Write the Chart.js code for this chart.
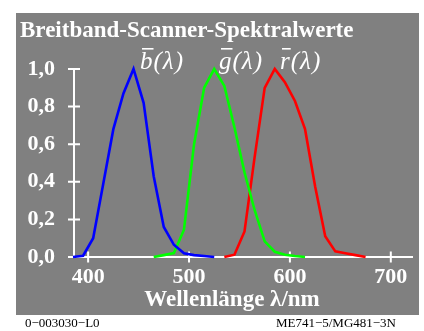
<!DOCTYPE html>
<html>
<head>
<meta charset="utf-8">
<script src="https://cdn.jsdelivr.net/npm/chart.js@4"></script>
<style>
  html, body { margin: 0; padding: 0; background: #fff; }
  canvas { display: block; }
</style>
</head>
<body>
<canvas id="spektral" width="424" height="331"></canvas>
<script>
// wavelengths (nm) and relative spectral values
var blueNm   = [385, 395, 405, 415, 425, 435, 445, 455, 465, 475, 485, 495, 505, 515, 525];
var blueVal  = [0.0, 0.007, 0.10, 0.39, 0.68, 0.87, 1.0, 0.82, 0.43, 0.16, 0.065, 0.02, 0.01, 0.005, 0.0];
var greenNm  = [465, 475, 485, 495, 505, 515, 525, 535, 545, 555, 565, 575, 585, 595, 605, 615];
var greenVal = [0.0, 0.01, 0.021, 0.145, 0.60, 0.90, 1.0, 0.91, 0.69, 0.45, 0.25, 0.083, 0.028, 0.012, 0.005, 0.0];
var redNm    = [535, 545, 555, 565, 575, 585, 595, 605, 615, 625, 635, 645, 655, 665, 675];
var redVal   = [0.0, 0.012, 0.136, 0.53, 0.90, 1.0, 0.93, 0.83, 0.68, 0.375, 0.11, 0.03, 0.02, 0.01, 0.0];
var xTicks = [400, 500, 600, 700];
var yTicks = [0.0, 0.2, 0.4, 0.6, 0.8, 1.0];

function points(nm, val) {
  return nm.map(function(x, i) { return {x: x, y: val[i]}; });
}

var serif = '"Liberation Serif", "Times New Roman", serif';

var panel = {
  id: 'panel',
  beforeDraw: function(chart) {
    var ctx = chart.ctx;
    ctx.save();
    ctx.fillStyle = '#ffffff';
    ctx.fillRect(0, 0, chart.width, chart.height);
    ctx.fillStyle = '#808080';
    ctx.fillRect(16, 13, 403, 302);

    ctx.fillStyle = '#ffffff';
    ctx.textBaseline = 'alphabetic';
    ctx.textAlign = 'left';
    ctx.font = 'bold 23px ' + serif;
    ctx.fillText('Breitband-Scanner-Spektralwerte', 20, 37);

    // footer
    ctx.fillStyle = '#000000';
    ctx.font = '13px ' + serif;
    ctx.fillText('0\u2212003030\u2212L0', 25, 327);
    ctx.textAlign = 'right';
    ctx.fillText('ME741\u22125/MG481\u22123N', 396, 327);
    ctx.restore();
  },
  beforeDatasetsDraw: function(chart) {
    var ctx = chart.ctx, xs = chart.scales.x, ys = chart.scales.y;
    var a = chart.chartArea;
    ctx.save();
    ctx.strokeStyle = '#ffffff';
    ctx.lineWidth = 2;
    ctx.beginPath();
    var y0 = ys.getPixelForValue(0), y1 = ys.getPixelForValue(1);
    ctx.moveTo(a.left, y1);
    ctx.lineTo(a.left, y0);
    ctx.lineTo(a.right, y0);
    yTicks.forEach(function(v) {
      var y = ys.getPixelForValue(v);
      ctx.moveTo(a.left - 6, y);
      ctx.lineTo(a.left + 6, y);
    });
    xTicks.forEach(function(v) {
      var x = xs.getPixelForValue(v);
      ctx.moveTo(x, y0 - 5.5);
      ctx.lineTo(x, y0 + 5.5);
    });
    ctx.stroke();

    // axis title
    ctx.fillStyle = '#ffffff';
    ctx.textAlign = 'center';
    ctx.font = 'bold 23px ' + serif;
    ctx.fillText('Wellenl\u00e4nge \u03bb/nm', 232, 306);

    // curve labels with overline
    ctx.textAlign = 'left';
    ctx.font = 'italic 25px ' + serif;
    [['b', 140], ['g', 219], ['r', 280]].forEach(function(l) {
      var w = ctx.measureText(l[0]).width;
      var x = l[1] + w + 1;
      ctx.fillText(l[0], l[1], 69);
      ['(', '\u03bb', ')'].forEach(function(c) {
        ctx.fillText(c, x, 69);
        x += ctx.measureText(c).width + 1;
      });
      ctx.fillRect(l[1] + 2, 48, w - 1, 1.6);
    });
    ctx.restore();
  }
};

var tickFont = {family: serif, size: 22, weight: 'bold'};

new Chart(document.getElementById('spektral'), {
  type: 'line',
  data: {
    datasets: [
      {data: points(blueNm, blueVal), borderColor: '#0000ff'},
      {data: points(greenNm, greenVal), borderColor: '#00ff00'},
      {data: points(redNm, redVal), borderColor: '#ff0000'}
    ]
  },
  options: {
    responsive: false,
    animation: false,
    devicePixelRatio: 1,
    layout: {padding: {left: 0, top: 69, right: 11, bottom: 34}},
    datasets: {line: {borderWidth: 2.6, pointRadius: 0, tension: 0, fill: false, clip: 8}},
    plugins: {legend: {display: false}, tooltip: {enabled: false}},
    scales: {
      x: {
        type: 'linear', min: 386, max: 722,
        afterBuildTicks: function(s) { s.ticks = xTicks.map(function(v) { return {value: v}; }); },
        afterFit: function(s) { s.height = 40; },
        grid: {display: false, drawTicks: false},
        border: {display: false},
        ticks: {color: '#ffffff', font: tickFont, padding: 7, maxRotation: 0}
      },
      y: {
        min: 0, max: 1,
        afterBuildTicks: function(s) { s.ticks = yTicks.map(function(v) { return {value: v}; }); },
        afterFit: function(s) { s.width = 74; },
        grid: {display: false, drawTicks: false},
        border: {display: false},
        ticks: {
          color: '#ffffff', font: tickFont, padding: 19,
          callback: function(v) { return v.toFixed(1).replace('.', ','); }
        }
      }
    }
  },
  plugins: [panel]
});
</script>
</body>
</html>
